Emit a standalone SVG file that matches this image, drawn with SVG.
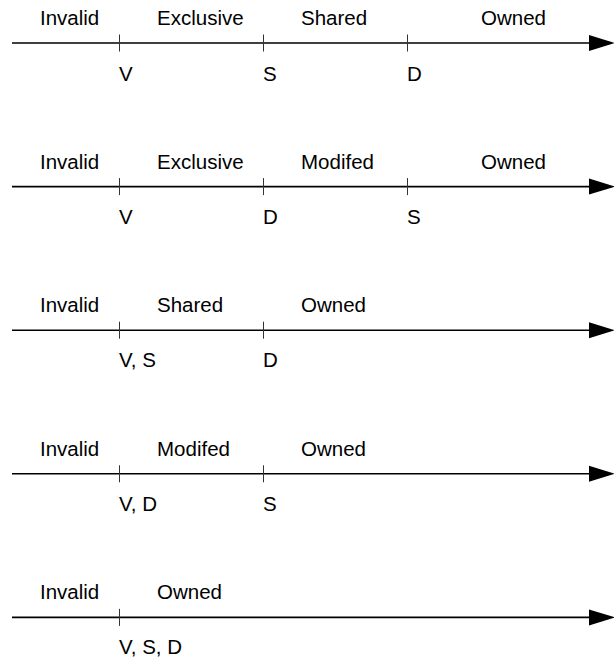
<svg xmlns="http://www.w3.org/2000/svg" xmlns:xlink="http://www.w3.org/1999/xlink" width="614" height="660" viewBox="0 0 614 660">
  <style>
    text { font-family: "Liberation Sans", Arial, Helvetica, sans-serif; font-size: 20.5px; fill: #000; }
    .axis { stroke: #000; stroke-width: 1.6; fill: none; }
    .tick { stroke: #333; stroke-width: 1; }
    .head { fill: #000; }
  </style>
  <defs>
    <!-- one timeline axis with its arrowhead, drawn at y=0 -->
    <g id="axis">
      <line class="axis" x1="12" y1="0" x2="592" y2="0"/>
      <polygon class="head" points="589,-8 615,0 589,8"/>
    </g>
    <line id="tick" class="tick" x1="0" y1="-8.5" x2="0" y2="8.5"/>
  </defs>

  <g id="connectors">
    <use xlink:href="#axis" transform="translate(0,43)"/>
    <use xlink:href="#axis" transform="translate(0,186.6)"/>
    <use xlink:href="#axis" transform="translate(0,330.2)"/>
    <use xlink:href="#axis" transform="translate(0,473.8)"/>
    <use xlink:href="#axis" transform="translate(0,617.4)"/>
  </g>

  <!-- Row 1: Invalid / Exclusive / Shared / Owned -->
  <g id="row1" transform="translate(0,43)">
    <use xlink:href="#tick" x="119.5"/>
    <use xlink:href="#tick" x="263.5"/>
    <use xlink:href="#tick" x="407.5"/>
    <text x="40" y="-18">Invalid</text>
    <text x="157" y="-18">Exclusive</text>
    <text x="301" y="-18">Shared</text>
    <text x="481" y="-18">Owned</text>
    <text x="119" y="38">V</text>
    <text x="263" y="38">S</text>
    <text x="407" y="38">D</text>
  </g>

  <!-- Row 2: Invalid / Exclusive / Modifed / Owned -->
  <g id="row2" transform="translate(0,186.6)">
    <use xlink:href="#tick" x="119.5"/>
    <use xlink:href="#tick" x="263.5"/>
    <use xlink:href="#tick" x="407.5"/>
    <text x="40" y="-18">Invalid</text>
    <text x="157" y="-18">Exclusive</text>
    <text x="301" y="-18">Modifed</text>
    <text x="481" y="-18">Owned</text>
    <text x="119" y="37">V</text>
    <text x="263" y="37">D</text>
    <text x="407" y="37">S</text>
  </g>

  <!-- Row 3: Invalid / Shared / Owned -->
  <g id="row3" transform="translate(0,330.2)">
    <use xlink:href="#tick" x="119.5"/>
    <use xlink:href="#tick" x="263.5"/>
    <text x="40" y="-18">Invalid</text>
    <text x="157" y="-18">Shared</text>
    <text x="301" y="-18">Owned</text>
    <text x="119" y="37">V, S</text>
    <text x="263" y="37">D</text>
  </g>

  <!-- Row 4: Invalid / Modifed / Owned -->
  <g id="row4" transform="translate(0,473.8)">
    <use xlink:href="#tick" x="119.5"/>
    <use xlink:href="#tick" x="263.5"/>
    <text x="40" y="-18">Invalid</text>
    <text x="157" y="-18">Modifed</text>
    <text x="301" y="-18">Owned</text>
    <text x="119" y="37">V, D</text>
    <text x="263" y="37">S</text>
  </g>

  <!-- Row 5: Invalid / Owned -->
  <g id="row5" transform="translate(0,617.4)">
    <use xlink:href="#tick" x="119.5"/>
    <text x="40" y="-18">Invalid</text>
    <text x="157" y="-18">Owned</text>
    <text x="119" y="36.5">V, S, D</text>
  </g>
</svg>
